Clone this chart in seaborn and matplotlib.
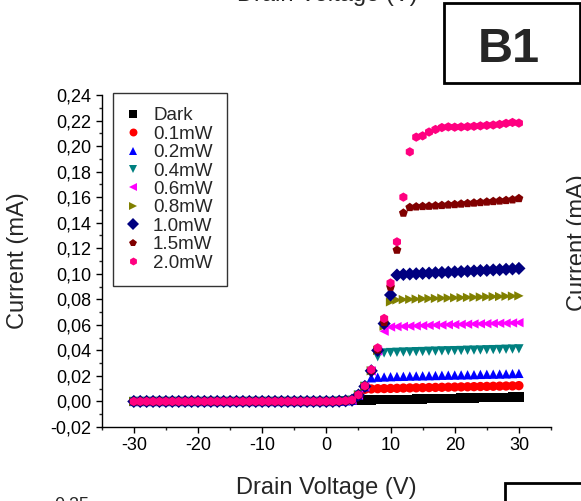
#!/usr/bin/env python3
"""
Drain current vs drain voltage under different illumination powers (panel B1).
"""

import pandas as pd
import matplotlib.pyplot as plt
import seaborn as sns
from matplotlib.patches import Rectangle
from matplotlib.ticker import MultipleLocator, FuncFormatter

sns.set_style('ticks')
plt.rcParams['font.family'] = ['Liberation Sans', 'DejaVu Sans']

# Drain voltage sweep (V)
voltage = [-30, -29, -28, -27, -26, -25, -24, -23, -22, -21, -20, -19, -18, -17,
           -16, -15, -14, -13, -12, -11, -10, -9, -8, -7, -6, -5, -4, -3, -2, -1,
           0, 1, 2, 3, 4, 5, 6, 7, 8, 9, 10, 11, 12, 13, 14, 15, 16, 17, 18, 19,
           20, 21, 22, 23, 24, 25, 26, 27, 28, 29, 30]

# Current below threshold (-30 V .. 3 V) is the same for every curve (mA)
off_current = [0.0, 0.0, 0.0, 0.0, 0.0, 0.0, 0.0, 0.0, 0.0, 0.0, 0.0, 0.0,
               0.0, 0.0, 0.0, 0.0, 0.0, 0.0, 0.0, 0.0, 0.0, 0.0, 0.0, 0.0,
               0.0, 0.0, 0.0, 0.0, 0.0, 0.0, 0.0, 0.0, 0.0002, 0.0005]

# Current from 4 V .. 30 V for each illumination (mA)
dark = [0.0006, 0.0010, 0.0011, 0.0012, 0.0013, 0.0014, 0.0015, 0.0016, 0.0017,
        0.0018, 0.0019, 0.0020, 0.0021, 0.0022, 0.0023, 0.0024, 0.0025, 0.0026,
        0.0027, 0.0028, 0.0029, 0.0030, 0.0031, 0.0032, 0.0033, 0.0034, 0.0035]
p01 = [0.0010, 0.0048, 0.0095, 0.0098, 0.0100, 0.0101, 0.0102, 0.0103, 0.0105,
       0.0106, 0.0107, 0.0108, 0.0109, 0.0110, 0.0111, 0.0112, 0.0113, 0.0114,
       0.0115, 0.0116, 0.0117, 0.0118, 0.0119, 0.0120, 0.0121, 0.0122, 0.0124]
p02 = [0.0010, 0.0050, 0.0115, 0.0185, 0.0190, 0.0192, 0.0194, 0.0196, 0.0197,
       0.0199, 0.0200, 0.0201, 0.0202, 0.0203, 0.0205, 0.0206, 0.0207, 0.0208,
       0.0209, 0.0210, 0.0212, 0.0213, 0.0214, 0.0215, 0.0216, 0.0218, 0.0220]
p04 = [0.0010, 0.0050, 0.0118, 0.0235, 0.0350, 0.0380, 0.0383, 0.0385, 0.0387,
       0.0388, 0.0390, 0.0391, 0.0393, 0.0394, 0.0396, 0.0397, 0.0398, 0.0399,
       0.0401, 0.0402, 0.0403, 0.0405, 0.0406, 0.0407, 0.0409, 0.0410, 0.0412]
p06 = [0.0010, 0.0050, 0.0118, 0.0238, 0.0395, 0.0550, 0.0583, 0.0586, 0.0588,
       0.0590, 0.0592, 0.0594, 0.0596, 0.0598, 0.0599, 0.0601, 0.0602, 0.0604,
       0.0605, 0.0607, 0.0608, 0.0609, 0.0611, 0.0612, 0.0613, 0.0615, 0.0617]
p08 = [0.0010, 0.0050, 0.0118, 0.0240, 0.0400, 0.0590, 0.0780, 0.0795, 0.0798,
       0.0800, 0.0802, 0.0804, 0.0806, 0.0807, 0.0809, 0.0810, 0.0812, 0.0813,
       0.0815, 0.0816, 0.0818, 0.0819, 0.0821, 0.0822, 0.0824, 0.0825, 0.0827]
p10 = [0.0010, 0.0050, 0.0118, 0.0240, 0.0400, 0.0610, 0.0834, 0.0990, 0.0995,
       0.0998, 0.1000, 0.1003, 0.1005, 0.1008, 0.1010, 0.1012, 0.1015, 0.1017,
       0.1020, 0.1022, 0.1025, 0.1027, 0.1030, 0.1032, 0.1035, 0.1038, 0.1042]
p15 = [0.0010, 0.0050, 0.0120, 0.0242, 0.0405, 0.0620, 0.0896, 0.1186, 0.1476,
       0.1520, 0.1525, 0.1528, 0.1530, 0.1533, 0.1536, 0.1540, 0.1543, 0.1547,
       0.1551, 0.1555, 0.1559, 0.1563, 0.1567, 0.1571, 0.1575, 0.1580, 0.1590]
p20 = [0.0012, 0.0052, 0.0122, 0.0250, 0.0420, 0.0650, 0.0928, 0.1250, 0.1600,
       0.1955, 0.2070, 0.2080, 0.2110, 0.2130, 0.2145, 0.2150, 0.2148, 0.2150,
       0.2152, 0.2155, 0.2158, 0.2162, 0.2165, 0.2170, 0.2178, 0.2185, 0.2180]

labels = ['Dark', '0.1mW', '0.2mW', '0.4mW', '0.6mW', '0.8mW', '1.0mW', '1.5mW', '2.0mW']
series = [dark, p01, p02, p04, p06, p08, p10, p15, p20]
colors = ['#000000', '#FF0000', '#0000FF', '#008080', '#FF00FF',
          '#808000', '#000080', '#800000', '#FF0080']
markers = ['s', 'o', '^', 'v', '<', '>', 'D', 'p', 'h']

frames = []
for lab, on in zip(labels, series):
    frames.append(pd.DataFrame({'voltage': voltage,
                                'current': off_current + on,
                                'power': lab}))
df = pd.concat(frames, ignore_index=True)

W, H = 581, 501
fig = plt.figure(figsize=(W / 100, H / 100), dpi=100)
ax = fig.add_axes([101.7 / W, 1 - 427 / H, (551 - 101.7) / W, (427 - 95) / H])

sns.scatterplot(data=df, x='voltage', y='current', hue='power', style='power',
                palette=dict(zip(labels, colors)), markers=dict(zip(labels, markers)),
                s=45, linewidth=0, ax=ax)

ax.set_xlim(-35, 35)
ax.set_ylim(-0.02, 0.24)
ax.xaxis.set_major_locator(MultipleLocator(10))
ax.xaxis.set_minor_locator(MultipleLocator(5))
ax.yaxis.set_major_locator(MultipleLocator(0.02))
ax.yaxis.set_minor_locator(MultipleLocator(0.01))
ax.xaxis.set_major_formatter(FuncFormatter(lambda v, p: f'{v:.0f}'))
ax.yaxis.set_major_formatter(FuncFormatter(lambda v, p: f'{v:.2f}'.replace('.', ',')))
ax.tick_params(which='major', direction='out', length=4, width=1, labelsize=13,
               pad=3.5, colors='black')
ax.tick_params(which='minor', direction='out', length=2.5, width=1)
for side in ['top', 'right']:
    ax.spines[side].set_visible(False)
for side in ['left', 'bottom']:
    ax.spines[side].set_linewidth(1)
    ax.spines[side].set_color('black')

ax.set_xlabel('Drain Voltage (V)', fontsize=17, labelpad=16)
ax.set_ylabel('Current (mA)', fontsize=17, labelpad=15)

handles, labs = ax.get_legend_handles_labels()
keep = [(h, l) for h, l in zip(handles, labs) if l in labels]
leg = ax.legend([h for h, l in keep], [l for h, l in keep],
                loc='upper left', bbox_to_anchor=(113 / W, 1 - 93 / H),
                bbox_transform=fig.transFigure, borderaxespad=0,
                fontsize=13.5, labelspacing=0.07, handlelength=0.64,
                handletextpad=0.75, borderpad=0.75, markerscale=0.85,
                frameon=True, fancybox=False, framealpha=1)
leg.get_frame().set_edgecolor('#333333')
leg.get_frame().set_linewidth(1)

# panel tag
fig.add_artist(Rectangle((444 / W, 1 - 83 / H), (580 - 444) / W, (83 - 3.3) / H,
                         transform=fig.transFigure, fill=False,
                         edgecolor='black', linewidth=2))
fig.text(509 / W, 1 - 62 / H, 'B1', fontsize=35, fontweight='bold',
         ha='center', va='baseline')

# pieces of the neighbouring panels cut by the crop
fig.text(327 / W, 1 - 0.5 / H, 'Drain Voltage (V)', fontsize=17,
         ha='center', va='baseline')
fig.text(567 / W, 1 - 243 / H, 'Current (mA)', fontsize=17, rotation=90,
         ha='left', va='center')
fig.text(89 / W, 1 - 496 / H, '0,25', fontsize=13, ha='right', va='top')
fig.add_artist(Rectangle((505 / W, -0.2), 0.3, 0.2 + (1 - 483 / H),
                         transform=fig.transFigure, fill=False,
                         edgecolor='black', linewidth=2))

fig.savefig('out.png', dpi=100)
